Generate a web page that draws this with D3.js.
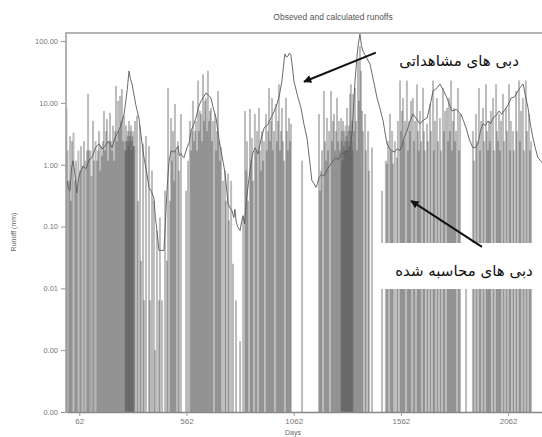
<!DOCTYPE html>
<html>
<head>
<meta charset="utf-8">
<script src="https://cdn.jsdelivr.net/npm/d3@7"></script>
<style>
body { margin: 0; background: #fff; }
</style>
</head>
<body>
<div id="chart"></div>
<script>
var observedRunoff = [
	[5,0.55],[12,0.4],[19,0.38],[26,0.9],[33,1.16],[42,0.7],[51,0.35],[58,0.6],[65,0.72],[80,0.95],[93,0.86],[108,1.2],
	[121,1.3],[138,1.9],[154,2.18],[168,1.8],[182,2.0],[198,2.4],[215,1.88],[226,2.6],[238,3.16],[255,4.2],[271,6.6],
	[285,15.6],[294,32.8],[301,24],[308,20.2],[325,9.5],[340,5.7],[352,2.6],[364,1.3],[375,0.8],[387,0.43],[398,0.37],
	[410,0.29],[417,0.14],[424,0.086],[434,0.041],[457,0.041],[464,0.12],[471,0.38],[480,1.1],[490,1.68],[506,1.6],
	[522,2.0],[529,1.4],[536,1.5],[550,1.3],[564,1.88],[575,2.3],[583,3.5],[595,4.4],[606,5.7],[618,8.5],[630,10.8],
	[642,12.5],[653,14.5],[665,13.2],[676,12.0],[688,8.0],[700,5.7],[712,2.8],[723,1.68],[733,1.1],[742,0.72],[756,0.235],
	[765,0.2],[774,0.18],[783,0.14],[788,0.19],[793,0.125],[800,0.1],[812,0.086],[819,0.12],[826,0.15],[833,0.11],
	[840,0.235],[849,0.45],[858,0.8],[870,1.5],[882,1.88],[896,1.5],[910,2.6],[924,3.95],[940,4.4],[956,5.7],[970,7.2],
	[984,9.6],[995,13],[1007,22.6],[1014,38],[1021,62],[1028,55],[1035,57],[1042,64],[1049,59],[1056,38],[1063,22.6],
	[1080,13],[1096,8.3],[1110,4.5],[1124,2.7],[1136,1.2],[1147,0.55],[1156,0.5],[1166,0.43],[1173,0.5],[1180,0.62],
	[1192,0.7],[1203,0.66],[1220,0.85],[1236,1.04],[1258,1.3],[1270,1.2],[1283,1.5],[1303,1.6],[1325,1.68],[1335,3.5],
	[1348,22.6],[1356,50],[1362,83],[1371,130],[1378,85],[1385,69],[1400,55],[1418,42.6],[1435,22],[1451,12],[1465,8],
	[1479,5.1],[1490,3],[1497,2.18],[1510,1.8],[1521,1.68],[1532,1.6],[1544,1.81],[1556,1.7],[1567,2.02],[1578,2.8],
	[1590,3.5],[1604,5],[1618,6.6],[1635,5.5],[1651,4.6],[1668,5.3],[1684,5.7],[1698,9],[1712,15.6],[1728,17],
	[1744,20.2],[1760,16],[1777,12],[1790,9],[1800,7.4],[1820,7.8],[1842,6.6],[1855,5],[1866,3.95],[1882,2.5],
	[1898,1.88],[1910,1.9],[1922,2.18],[1933,3.5],[1945,4.6],[1956,4.3],[1968,5.1],[1980,4.6],[1992,5.7],[2005,6.2],
	[2020,7.4],[2032,6.5],[2043,7.4],[2060,9],[2076,12],[2092,12.5],[2108,15.6],[2120,18],[2132,20.2],[2143,13],
	[2155,8.3],[2166,4.5],[2178,2.7],[2190,1.8],[2201,1.3],[2225,1.04]
];

// calculated runoff (mm), [day, value]
var calculatedRunoff = [
	[2,8.3],[7,1.7],[14,0.55],[19,2.9],[23,0.26],[28,2.4],[35,3.3],[42,0.55],[47,1.16],[51,0.38],[58,1.7],[65,0.8],
	[70,2.0],[77,0.96],[84,2.4],[91,1.16],[98,1.7],[103,14],[107,1.7],[114,1.7],[119,0.66],[126,5.1],[131,1.16],
	[138,2.4],[145,1.16],[149,1.7],[154,3.5],[159,0.8],[163,2.0],[168,1.4],[173,2.4],[177,7.4],[182,1.7],[187,3.5],
	[191,5.5],[196,1.16],[201,2.4],[205,6.9],[210,2.4],[215,1.7],[219,4.3],[224,1.16],[229,3.5],[233,18.8],[238,2.4],
	[243,10.8],[247,3.5],[252,13],[257,5.1],[261,16.8],[266,2.4],[271,6.2],[275,1.7],[278,2.4],[280,4.3],[282,1.7],
	[285,2.4],[287,2.9],[289,3.5],[292,2.0],[294,5.1],[296,2.4],[298,2.9],[301,3.5],[303,4.3],[306,1.7],[308,2.4],
	[310,2.9],[312,3.5],[315,2.0],[317,2.0],[322,5.1],[331,6.2],[336,0.26],[345,4.3],[350,0.028],[359,2.2],
	[364,0.0064],[373,2.9],[387,2.0],[392,0.0064],[401,0.8],[410,0.26],[415,0.001],[424,0.086],[434,0.0064],
	[438,0.14],[448,0.0064],[462,0.38],[471,0.028],[476,17.5],[485,0.26],[490,5.7],[494,1.16],[499,3.5],[504,0.55],
	[508,9.6],[513,1.7],[522,2.4],[527,0.8],[536,6.6],[560,0.38],[569,1.16],[578,5.1],[583,1.7],[588,3.5],[592,10.8],
	[597,2.4],[602,3.5],[606,5.1],[611,1.7],[616,23],[620,3.5],[625,7.4],[630,6.6],[634,2.4],[639,29],[644,5.1],
	[648,10.8],[653,12],[658,3.5],[662,33],[667,5.1],[672,7.4],[676,8.3],[681,2.4],[686,5.1],[695,6.6],[700,1.7],
	[704,3.5],[709,15.6],[714,2.4],[718,1.16],[723,1.9],[732,0.55],[742,0.8],[746,0.26],[756,0.72],[760,0.125],
	[770,0.55],[779,0.025],[793,0.0064],[812,0.0014],[826,0.14],[835,7.4],[840,0.8],[844,2.4],[849,0.26],[858,8.0],
	[863,1.16],[867,2.7],[872,0.55],[881,6.6],[886,1.7],[891,3.5],
	[900,8.3],[905,1.7],[909,0.8],[914,3.5],[919,1.16],[923,2.4],[933,6.6],[937,1.7],[942,3.5],[947,17.5],[951,2.4],
	[956,5.1],[961,12],[965,1.7],[970,3.5],[979,9.6],[984,2.4],[989,5.1],[993,20],[998,1.7],[1003,3.5],[1007,8.3],
	[1012,2.4],[1017,1.16],[1026,12],[1031,3.5],[1035,1.7],[1040,5.7],[1045,2.4],[1049,4.6],[1101,1.16],[1180,6.6],
	[1185,0.38],[1189,0.8],[1194,1.7],[1203,15.6],[1208,2.4],[1213,1.16],[1217,5.7],[1222,1.7],[1227,3.5],[1236,15.6],
	[1241,2.4],[1245,5.1],[1250,6.6],[1255,1.7],[1259,3.5],[1264,12],[1269,2.4],[1273,5.1],[1278,1.7],[1283,5.7],
	[1285,2.4],[1287,3.5],[1290,1.16],[1292,5.1],[1294,2.0],[1297,3.5],[1299,1.7],[1301,2.4],[1304,4.3],[1306,1.7],
	[1308,2.9],[1311,8.3],[1313,2.4],[1315,3.5],[1318,1.7],[1320,4.3],[1322,2.0],[1325,14],[1327,3.5],[1329,20],
	[1332,2.4],[1334,5.1],[1336,1.7],[1339,14],
	[1343,3.5],[1348,17.5],[1353,5.1],[1357,1.7],[1362,47],[1367,10.8],[1371,83],[1376,33],[1381,7.4],[1385,3.5],
	[1395,6.6],[1399,1.7],[1409,3.5],[1413,0.8],[1427,1.9],[1474,0.38],[1492,1.16],[1497,1.04],[1502,2.4],[1511,6.6],
	[1516,1.7],[1521,3.5],[1525,1.04],[1534,2.4],[1544,1.3],[1548,5.1],[1558,23],[1562,3.5],[1567,7.4],[1572,12],
	[1576,2.4],[1581,5.1],[1590,23],[1595,1.7],[1600,5.1],[1604,3.5],[1609,10.8],[1618,12],[1623,2.4],[1628,5.1],
	[1637,20],[1642,3.5],[1646,1.7],[1651,7.4],[1656,2.4],[1665,17.5],[1670,3.5],[1674,1.7],[1684,4.6],[1688,2.4],
	[1698,9.6],[1702,3.5],[1712,23],[1716,1.7],[1721,5.1],[1730,12],[1735,2.4],[1744,5.7],[1749,1.7],[1758,17.5],
	[1763,3.5],[1768,7.4],[1777,8.3],[1782,2.4],
	[1786,12],[1791,3.5],[1796,23],[1800,1.7],[1805,5.1],[1810,8.3],[1814,2.4],[1819,3.5],[1828,17.5],[1833,1.7],
	[1838,6.6],[1866,0.028],[1898,3.5],[1903,1.16],[1912,6.6],[1917,2.4],[1926,17.5],[1931,1.7],[1936,5.1],[1945,8.3],
	[1950,2.4],[1959,20],[1964,3.5],[1968,1.7],[1973,5.1],[1977,2.4],[1982,7.4],[1992,12],[1996,1.7],[2006,20],
	[2010,3.5],[2015,2.4],[2020,6.6],[2024,1.7],[2029,5.1],[2038,14],[2043,2.4],[2052,8.3],[2057,3.5],[2066,20],
	[2071,1.7],[2075,5.1],[2085,3.5],[2089,1.7],[2099,15.6],[2103,3.5],[2113,23],[2117,2.4],[2122,7.4],[2131,12],
	[2136,1.7],[2145,23],[2150,3.5],[2159,6.6],[2164,1.7],[2169,2.4]
];

var yTicks = [0.0001, 0.001, 0.01, 0.1, 1, 10, 100];
var xTicks = [62, 562, 1062, 1562, 2062];

var titleText = "Obseved and calculated runoffs";
var labelObserved = "دبی های مشاهداتی";
var labelCalculated = "دبی های محاسبه شده";
// arrow tail / tip in data units [day, value]
var arrowObserved = [[1445, 65], [1110, 22]];
var arrowCalculated = [[1940, 0.047], [1610, 0.26]];

var width = 542, height = 437;
var plot = {left: 66, top: 33, bottom: 412, right: 602};

var svg = d3.select('#chart')
	.append('svg')
	.attr('width', width)
	.attr('height', height)
	.style('font-family', 'Liberation Sans, Arial, sans-serif');

var x = d3.scaleLinear()
	.domain([0, 2500])
	.range([plot.left, plot.right]);

var y = d3.scaleLog()
	.domain([0.0001, 135])
	.range([plot.bottom, plot.top])
	.clamp(true);

svg.append('defs').append('clipPath')
	.attr('id', 'plotClip')
	.append('rect')
	.attr('x', plot.left)
	.attr('y', plot.top)
	.attr('width', plot.right - plot.left)
	.attr('height', plot.bottom - plot.top);

var inner = svg.append('g').attr('clip-path', 'url(#plotClip)');

// calculated: thin bars from the floor of the log axis
inner.append('g')
	.selectAll('rect')
	.data(calculatedRunoff)
	.join('rect')
	.attr('x', function (d) { return x(d[0]) - 1; })
	.attr('width', 2)
	.attr('y', function (d) { return y(d[1]); })
	.attr('height', function (d) { return y(0.0001) - y(d[1]); })
	.attr('fill', '#505050')
	.attr('fill-opacity', 0.38);

// observed line
inner.append('path')
	.datum(observedRunoff)
	.attr('fill', 'none')
	.attr('stroke', '#5a5a5a')
	.attr('stroke-width', 0.9)
	.attr('d', d3.line()
		.x(function (d) { return x(d[0]); })
		.y(function (d) { return y(d[1]); }));

// frame
svg.append('path')
	.attr('d', 'M' + width + ',' + plot.top + 'H' + plot.left + 'V' + plot.bottom)
	.attr('fill', 'none')
	.attr('stroke', '#9a9a9a')
	.attr('stroke-width', 1.5);

// axes
var yAxis = d3.axisLeft(y)
	.tickValues(yTicks)
	.tickFormat(d3.format('.2f'))
	.tickSize(5)
	.tickPadding(3);

var gy = svg.append('g')
	.attr('transform', 'translate(' + plot.left + ',0)')
	.call(yAxis);
gy.select('.domain').remove();
gy.selectAll('line').attr('stroke', '#999');
gy.selectAll('text').attr('fill', '#777').style('font-size', '7.5px');

var xAxis = d3.axisBottom(x)
	.tickValues(xTicks)
	.tickFormat(d3.format('d'))
	.tickSize(4)
	.tickSizeOuter(0)
	.tickPadding(2);

var gx = svg.append('g')
	.attr('transform', 'translate(0,' + plot.bottom + ')')
	.call(xAxis);
gx.select('.domain').attr('stroke', '#888').attr('stroke-width', 1.5);
gx.selectAll('line').attr('stroke', '#999');
gx.selectAll('text').attr('fill', '#777').style('font-size', '8px');

// titles
svg.append('text')
	.attr('x', 333)
	.attr('y', 20)
	.attr('text-anchor', 'middle')
	.attr('fill', '#555')
	.style('font-size', '8.5px')
	.text(titleText);

svg.append('text')
	.attr('transform', 'translate(16,' + 232 + ') rotate(-90)')
	.attr('text-anchor', 'middle')
	.attr('fill', '#666')
	.style('font-size', '7px')
	.text('Runoff (mm)');

svg.append('text')
	.attr('x', 293)
	.attr('y', 435)
	.attr('text-anchor', 'middle')
	.attr('fill', '#666')
	.style('font-size', '7px')
	.text('Days');

// annotation boxes
svg.append('rect')
	.attr('x', 390).attr('y', 35)
	.attr('width', width - 390).attr('height', 44)
	.attr('fill', '#fff');

svg.append('rect')
	.attr('x', 378).attr('y', 243)
	.attr('width', width - 378).attr('height', 46)
	.attr('fill', '#fff');

svg.append('text')
	.attr('x', 459)
	.attr('y', 66)
	.attr('text-anchor', 'middle')
	.attr('fill', '#111')
	.style('font-family', 'DejaVu Sans, sans-serif')
	.style('font-size', '15px')
	.text(labelObserved);

svg.append('text')
	.attr('x', 464)
	.attr('y', 276)
	.attr('text-anchor', 'middle')
	.attr('fill', '#111')
	.style('font-family', 'DejaVu Sans, sans-serif')
	.style('font-size', '15px')
	.text(labelCalculated);

// arrows
svg.select('defs').append('marker')
	.attr('id', 'head')
	.attr('viewBox', '0 0 10 10')
	.attr('refX', 9)
	.attr('refY', 5)
	.attr('markerWidth', 5)
	.attr('markerHeight', 4)
	.attr('orient', 'auto')
	.append('path')
	.attr('d', 'M0,0L10,5L0,10z')
	.attr('fill', '#111');

[arrowObserved, arrowCalculated].forEach(function (a) {
	svg.append('line')
		.attr('x1', x(a[0][0])).attr('y1', y(a[0][1]))
		.attr('x2', x(a[1][0])).attr('y2', y(a[1][1]))
		.attr('stroke', '#111')
		.attr('stroke-width', 2)
		.attr('marker-end', 'url(#head)');
});
</script>
</body>
</html>
